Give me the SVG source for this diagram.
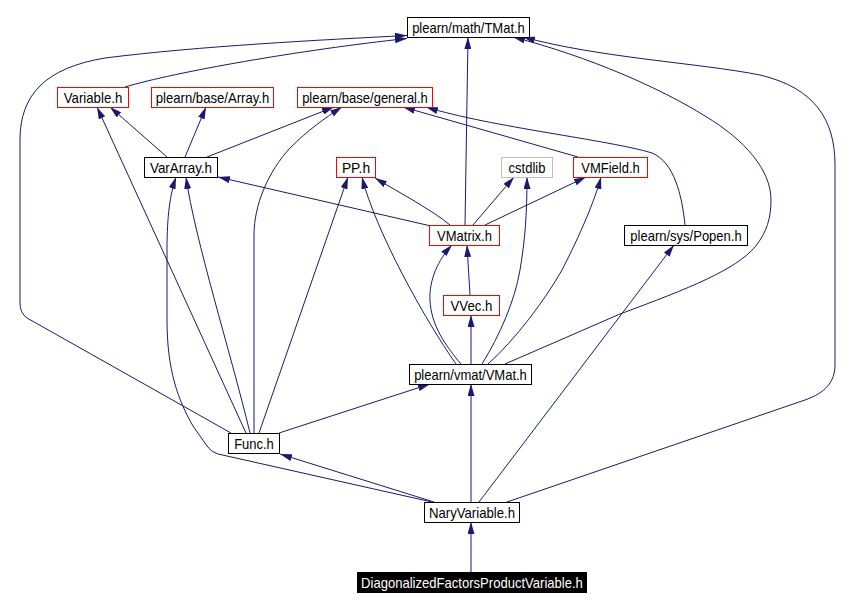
<svg xmlns="http://www.w3.org/2000/svg" width="853" height="609" viewBox="0 0 853 609">
<style>
.e{fill:none;stroke:#191970;stroke-width:1;marker-end:url(#a)}
.b{fill:#fff;stroke:#000;stroke-width:1}
.g{fill:#fff;stroke:#bfbfbf;stroke-width:1}
.k{fill:#000;stroke:#000;stroke-width:1}
text{font-family:"Liberation Sans",Arial,Helvetica,sans-serif;font-size:15px;text-anchor:middle;fill:#000}
.w{fill:#fff}
</style>
<defs>
<marker id="a" markerWidth="12" markerHeight="7" refX="12" refY="3.5" orient="auto" markerUnits="userSpaceOnUse">
<path d="M0,0 L12,3.5 L0,7 z" fill="#191970"/>
</marker>
</defs>
<rect width="853" height="609" fill="#fff"/>
<g id="edges">
<path class="e" d="M125,87 C175,72 300,50 407,38.5"/>
<path class="e" d="M231,433 L27,318 Q20,313 20,303 L20,140 C20,95 45,68 105,58 C200,46 320,40 407,35.5"/>
<path class="e" d="M465,225 L468,37"/>
<path class="e" d="M505,364 L620,314 C690,288 735,270 755,247 C767,232 771,218 771,200 C771,170 745,140 705,116 C660,88 590,57 513,37"/>
<path class="e" d="M507,502 L805,400 C825,393 835,382 835,365 L835,165 C835,120 815,88 760,75 C700,63 600,58 523,37"/>
<path class="e" d="M167,157 L110,107"/>
<path class="e" d="M246,433 L97,107"/>
<path class="e" d="M185,157 L206,107"/>
<path class="e" d="M207,157 L334,107"/>
<path class="e" d="M254,433 L254,235 C254,205 268,172 290,148 C308,130 325,118 342,107"/>
<path class="e" d="M578,157 L403,107"/>
<path class="e" d="M685,225 C682,195 674,162 652,153 C610,140 490,127 426,107"/>
<path class="e" d="M450,225 C432,210 400,193 375,178"/>
<path class="e" d="M456,364 C425,320 375,230 362,177"/>
<path class="e" d="M259,433 L348,177"/>
<path class="e" d="M431,226 L218,177"/>
<path class="e" d="M250,433 C230,350 195,240 186,177"/>
<path class="e" d="M432,502 L218,454 Q211,452 207,446 L193,426 C178,400 167,370 167,320 L167,250 C167,215 170,195 176,177"/>
<path class="e" d="M473,225 L514,177"/>
<path class="e" d="M482,364 C500,335 515,300 520,270 C525,240 527,215 527,177"/>
<path class="e" d="M485,225 L586,177"/>
<path class="e" d="M488,364 C515,340 545,300 562,270 C580,235 595,200 601,177"/>
<path class="e" d="M470,295 L467,245"/>
<path class="e" d="M461,364 C445,345 431,325 430,300 C429,280 438,260 452,245"/>
<path class="e" d="M279,433 L430,384"/>
<path class="e" d="M471,502 L471,384"/>
<path class="e" d="M434,502 L280,454"/>
<path class="e" d="M471,572 L471,522"/>
<path class="e" d="M479,502 L674,245"/>
<path class="e" d="M471,364 L471,315"/>
</g>
<g id="n_tmat"><rect class="b" x="407.5" y="17.5" width="122" height="20"/><text x="468.5" y="33" textLength="112.7" lengthAdjust="spacingAndGlyphs">plearn/math/TMat.h</text></g>
<g id="n_variable"><rect x="57.5" y="87.5" width="71" height="20" fill="#fff" stroke="red" stroke-width="1"/><text x="93" y="103" textLength="58.5" lengthAdjust="spacingAndGlyphs">Variable.h</text></g>
<g id="n_array"><rect x="151.5" y="87.5" width="122" height="20" fill="#fff" stroke="red" stroke-width="1"/><text x="212.5" y="103" textLength="113.4" lengthAdjust="spacingAndGlyphs">plearn/base/Array.h</text></g>
<g id="n_general"><rect x="297.5" y="87.5" width="135" height="20" fill="#fff" stroke="red" stroke-width="1"/><text x="365" y="103" textLength="125.7" lengthAdjust="spacingAndGlyphs">plearn/base/general.h</text></g>
<g id="n_vararray"><rect class="b" x="144.5" y="157.5" width="73" height="20"/><text x="181" y="173" textLength="62.1" lengthAdjust="spacingAndGlyphs">VarArray.h</text></g>
<g id="n_pp"><rect x="336.5" y="157.5" width="39" height="20" fill="#fff" stroke="red" stroke-width="1"/><text x="356" y="173" textLength="28.2" lengthAdjust="spacingAndGlyphs">PP.h</text></g>
<g id="n_cstdlib"><rect class="g" x="501.5" y="157.5" width="51" height="20"/><text x="527" y="173" textLength="36.8" lengthAdjust="spacingAndGlyphs">cstdlib</text></g>
<g id="n_vmfield"><rect x="573.5" y="157.5" width="74" height="20" fill="#fff" stroke="red" stroke-width="1"/><text x="610.5" y="173" textLength="58.5" lengthAdjust="spacingAndGlyphs">VMField.h</text></g>
<g id="n_vmatrix"><rect x="429.5" y="225.5" width="70" height="20" fill="#fff" stroke="red" stroke-width="1"/><text x="464.5" y="241" textLength="54.9" lengthAdjust="spacingAndGlyphs">VMatrix.h</text></g>
<g id="n_popen"><rect class="b" x="624.5" y="225.5" width="123" height="20"/><text x="686" y="241" textLength="111.3" lengthAdjust="spacingAndGlyphs">plearn/sys/Popen.h</text></g>
<g id="n_vvec"><rect x="443.5" y="295.5" width="56" height="20" fill="#fff" stroke="red" stroke-width="1"/><text x="471.5" y="311" textLength="41.9" lengthAdjust="spacingAndGlyphs">VVec.h</text></g>
<g id="n_vmat"><rect class="b" x="409.5" y="364.5" width="122" height="20"/><text x="470.5" y="380" textLength="112.7" lengthAdjust="spacingAndGlyphs">plearn/vmat/VMat.h</text></g>
<g id="n_func"><rect class="b" x="228.5" y="433.5" width="51" height="20"/><text x="254" y="449" textLength="39.7" lengthAdjust="spacingAndGlyphs">Func.h</text></g>
<g id="n_nary"><rect class="b" x="424.5" y="502.5" width="95" height="20"/><text x="472" y="518" textLength="86" lengthAdjust="spacingAndGlyphs">NaryVariable.h</text></g>
<g id="n_diag"><rect class="k" x="357.5" y="572.5" width="229" height="20"/><text class="w" x="472" y="588" textLength="221.8" lengthAdjust="spacingAndGlyphs">DiagonalizedFactorsProductVariable.h</text></g>
</svg>
